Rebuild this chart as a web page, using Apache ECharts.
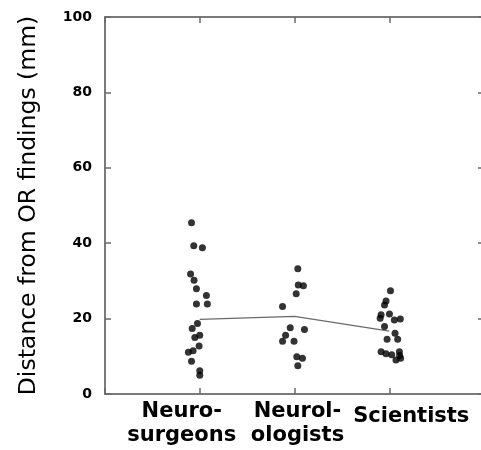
<!DOCTYPE html>
<html>
<head>
<meta charset="utf-8">
<script src="https://cdn.jsdelivr.net/npm/echarts@6/dist/echarts.min.js"></script>
<style>
  html, body { margin: 0; padding: 0; background: #fff; }
  #chart { width: 481px; height: 450px; }
</style>
</head>
<body>
<div id="chart"></div>
<script>
// groups on the x axis (positions 1, 2, 3)
var groups = ['Neuro-\nsurgeons', 'Neurol-\nologists', 'Scientists'];
var yTicks = [0, 20, 40, 60, 80, 100];

// individual distances (mm) and jittered x positions
var surgX = [0.913, 0.937, 1.028, 0.903, 0.94, 0.965, 1.07, 0.965, 1.08, 0.976, 0.92, 1.0, 0.948, 0.993, 0.93, 0.88, 0.913, 1.0, 1.0];
var surgY = [45.4, 39.3, 38.8, 31.8, 30.2, 27.9, 26.1, 23.9, 23.9, 18.7, 17.4, 15.6, 15.0, 12.7, 11.5, 11.1, 8.7, 6.2, 5.0];
var neurX = [2.035, 2.04, 2.094, 2.018, 1.874, 1.955, 2.105, 1.906, 1.874, 1.995, 2.024, 2.084, 2.035];
var neurY = [33.2, 28.9, 28.7, 26.6, 23.2, 17.6, 17.1, 15.6, 14.0, 14.0, 9.9, 9.5, 7.5];
var sciX = [3.013, 2.966, 2.95, 3.002, 2.914, 2.904, 3.054, 3.117, 2.95, 3.061, 3.089, 2.977, 2.914, 2.966, 3.026, 3.107, 3.11, 3.071, 3.12];
var sciY = [27.4, 24.7, 23.6, 21.2, 21.0, 20.1, 19.6, 19.9, 17.9, 16.1, 14.5, 14.5, 11.2, 10.7, 10.4, 11.2, 10.2, 9.0, 9.5];

// group means
var meanX = [1, 2, 3];
var meanY = [19.8, 20.6, 16.7];

function pairs(xs, ys) {
    return xs.map(function (x, i) { return [x, ys[i]]; });
}

function frame() {
    return { show: true, onZero: false, lineStyle: { color: '#7a7a7a', width: 2 } };
}
function ticks() {
    return { show: true, inside: true, length: 6, lineStyle: { color: '#6a6a6a', width: 1.5 } };
}

var myChart = echarts.init(document.getElementById('chart'));

var labelFont = { fontFamily: 'DejaVu Sans', fontWeight: 'bold', fontSize: 21, lineHeight: 24, color: '#000' };

var option = {
    animation: false,
    grid: {
        left: 105, top: 17, right: -3, bottom: 56,
        outerBoundsMode: 'none', containLabel: false
    },
    xAxis: [{
        type: 'value', position: 'bottom', min: 0, max: 4, interval: 1,
        axisLine: frame(), axisTick: ticks(), splitLine: { show: false },
        axisLabel: {
            margin: 6,
            formatter: function (v) {
                var name = groups[v - 1];
                if (!name) return '';
                return '{g' + v + '|' + name + '}';
            },
            rich: {
                g1: Object.assign({ padding: [0, 36, 0, 0] }, labelFont),
                g2: Object.assign({ padding: [0, 0, 0, 6] }, labelFont),
                g3: Object.assign({ padding: [10, 0, 0, 44] }, labelFont)
            }
        }
    }, {
        type: 'value', position: 'top', min: 0, max: 4, interval: 1,
        axisLine: frame(), axisTick: ticks(), axisLabel: { show: false }, splitLine: { show: false }
    }],
    yAxis: [{
        type: 'value', position: 'left', min: 0, max: 100, interval: 20,
        name: 'Distance from OR findings (mm)',
        nameLocation: 'middle', nameGap: 64,
        nameTextStyle: { fontFamily: 'DejaVu Sans', fontSize: 23.5, color: '#000' },
        axisLine: frame(), axisTick: ticks(), splitLine: { show: false },
        axisLabel: {
            margin: 13,
            fontFamily: 'DejaVu Sans', fontWeight: 'bold', fontSize: 14, color: '#000',
            formatter: function (v) { return yTicks.indexOf(v) >= 0 ? String(v) : ''; }
        }
    }, {
        type: 'value', position: 'right', min: 0, max: 100, interval: 20,
        axisLine: frame(), axisTick: ticks(), axisLabel: { show: false }, splitLine: { show: false }
    }],
    series: [
        {
            type: 'line', data: pairs(meanX, meanY), symbol: 'none',
            lineStyle: { color: '#6a6a6a', width: 1.3 }, z: 1
        },
        { type: 'scatter', data: pairs(surgX, surgY), symbolSize: 7, itemStyle: { color: '#000' }, z: 2 },
        { type: 'scatter', data: pairs(neurX, neurY), symbolSize: 7, itemStyle: { color: '#000' }, z: 2 },
        { type: 'scatter', data: pairs(sciX, sciY), symbolSize: 7, itemStyle: { color: '#000' }, z: 2 }
    ]
};

myChart.setOption(option);
</script>
</body>
</html>
